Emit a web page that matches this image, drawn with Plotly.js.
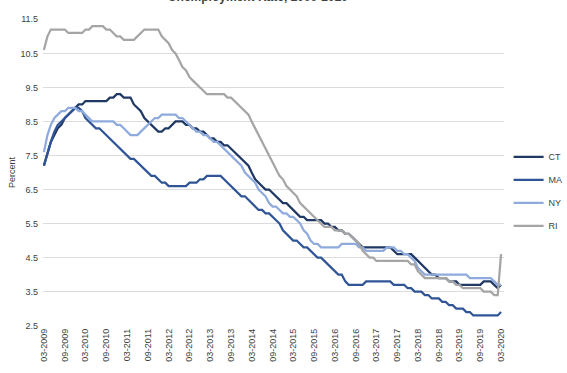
<!DOCTYPE html>
<html>
<head>
<meta charset="utf-8">
<script src="https://cdn.plot.ly/plotly-3.0.1.min.js"></script>
<style>html,body{margin:0;padding:0;background:#fff;}#chart{width:567px;height:373px;}</style>
</head>
<body>
<div id="chart"></div>
<script>
// Monthly series, March 2009 to March 2020
const startYear = 2009, startMonth = 3, nMonths = 133;
const months = [];
for (let i = 0; i < nMonths; i++) {
  const m = startMonth - 1 + i;
  const y = startYear + Math.floor(m / 12);
  const mm = (m % 12) + 1;
  months.push(y + '-' + String(mm).padStart(2, '0') + '-01');
}

const CT = [
  7.2,7.6,7.9,8.1,8.3,8.4,8.6,8.7,8.8,8.9,9.0,9.0,
  9.1,9.1,9.1,9.1,9.1,9.1,9.1,9.2,9.2,9.3,9.3,9.2,
  9.2,9.2,9.0,8.9,8.8,8.6,8.5,8.4,8.3,8.2,8.2,8.3,
  8.3,8.4,8.5,8.5,8.5,8.4,8.4,8.3,8.3,8.2,8.2,8.1,
  8.0,8.0,7.9,7.9,7.8,7.8,7.7,7.6,7.5,7.4,7.3,7.2,
  7.0,6.8,6.7,6.6,6.5,6.5,6.4,6.3,6.2,6.1,6.1,6.0,
  5.9,5.8,5.7,5.7,5.6,5.6,5.6,5.6,5.6,5.5,5.5,5.4,
  5.4,5.3,5.3,5.2,5.2,5.1,5.0,4.9,4.8,4.8,4.8,4.8,
  4.8,4.8,4.8,4.8,4.8,4.7,4.6,4.6,4.6,4.6,4.6,4.5,
  4.4,4.3,4.2,4.1,4.0,4.0,3.9,3.9,3.9,3.8,3.8,3.8,
  3.7,3.7,3.7,3.7,3.7,3.7,3.7,3.8,3.8,3.8,3.7,3.6,3.7
];
const MA = [
  7.2,7.6,7.9,8.2,8.4,8.5,8.6,8.7,8.8,8.9,8.9,8.8,
  8.6,8.5,8.4,8.3,8.3,8.2,8.1,8.0,7.9,7.8,7.7,7.6,
  7.5,7.4,7.4,7.3,7.2,7.1,7.0,6.9,6.9,6.8,6.7,6.7,
  6.6,6.6,6.6,6.6,6.6,6.6,6.7,6.7,6.7,6.8,6.8,6.9,
  6.9,6.9,6.9,6.9,6.8,6.7,6.6,6.5,6.4,6.3,6.3,6.2,
  6.1,6.0,5.9,5.9,5.8,5.8,5.7,5.6,5.5,5.3,5.2,5.1,
  5.0,5.0,4.9,4.8,4.8,4.7,4.6,4.5,4.5,4.4,4.3,4.2,
  4.1,4.0,4.0,3.8,3.7,3.7,3.7,3.7,3.7,3.8,3.8,3.8,
  3.8,3.8,3.8,3.8,3.8,3.7,3.7,3.7,3.7,3.6,3.6,3.5,
  3.5,3.5,3.4,3.4,3.3,3.3,3.3,3.2,3.2,3.1,3.1,3.0,
  3.0,3.0,2.9,2.9,2.8,2.8,2.8,2.8,2.8,2.8,2.8,2.8,2.9
];
const NY = [
  7.6,8.1,8.4,8.6,8.7,8.8,8.8,8.9,8.9,8.9,8.8,8.8,
  8.7,8.6,8.5,8.5,8.5,8.5,8.5,8.5,8.5,8.4,8.4,8.3,
  8.2,8.1,8.1,8.1,8.2,8.3,8.4,8.5,8.6,8.6,8.7,8.7,
  8.7,8.7,8.7,8.6,8.6,8.5,8.4,8.3,8.2,8.2,8.1,8.1,
  8.0,7.9,7.9,7.8,7.7,7.6,7.5,7.4,7.3,7.2,7.0,6.9,
  6.8,6.7,6.5,6.4,6.3,6.1,6.0,6.0,5.9,5.8,5.8,5.7,
  5.7,5.6,5.5,5.3,5.2,5.0,4.9,4.9,4.8,4.8,4.8,4.8,
  4.8,4.8,4.9,4.9,4.9,4.9,4.9,4.8,4.8,4.7,4.7,4.7,
  4.7,4.7,4.7,4.8,4.8,4.8,4.7,4.7,4.6,4.6,4.5,4.4,
  4.2,4.1,4.0,4.0,4.0,4.0,4.0,4.0,4.0,4.0,4.0,4.0,
  4.0,4.0,4.0,3.9,3.9,3.9,3.9,3.9,3.9,3.9,3.8,3.7,3.7
];
const RI = [
  10.6,11.0,11.2,11.2,11.2,11.2,11.2,11.1,11.1,11.1,11.1,11.1,
  11.2,11.2,11.3,11.3,11.3,11.3,11.2,11.2,11.1,11.0,11.0,10.9,
  10.9,10.9,10.9,11.0,11.1,11.2,11.2,11.2,11.2,11.2,11.0,10.9,
  10.8,10.6,10.5,10.3,10.1,10.0,9.8,9.7,9.6,9.5,9.4,9.3,
  9.3,9.3,9.3,9.3,9.3,9.2,9.2,9.1,9.0,8.9,8.8,8.7,
  8.5,8.3,8.1,7.9,7.7,7.5,7.3,7.1,6.9,6.8,6.6,6.5,
  6.4,6.3,6.1,6.0,5.9,5.8,5.7,5.6,5.5,5.4,5.4,5.4,
  5.3,5.3,5.3,5.2,5.2,5.1,5.0,4.9,4.7,4.6,4.5,4.5,
  4.4,4.4,4.4,4.4,4.4,4.4,4.4,4.4,4.4,4.4,4.3,4.3,
  4.1,4.0,3.9,3.9,3.9,3.9,3.9,3.9,3.9,3.8,3.8,3.7,
  3.7,3.6,3.6,3.6,3.6,3.6,3.6,3.5,3.5,3.5,3.4,3.4,4.6
];

const seriesNames = ['CT', 'MA', 'NY', 'RI'];
const seriesData = [CT, MA, NY, RI];
const seriesColors = ['#1F3864', '#2F5597', '#8FAADC', '#A5A5A5'];

const FONT = 'Liberation Sans, Arial, sans-serif';

const traces = seriesNames.map((name, k) => ({
  type: 'scatter',
  mode: 'lines',
  name: name,
  x: months,
  y: seriesData[k],
  line: {color: seriesColors[k], width: 2.25},
  legendgroup: name
}));

const layout = {
  width: 567,
  height: 373,
  margin: {l: 43, r: 63, t: 19, b: 47},
  paper_bgcolor: '#ffffff',
  plot_bgcolor: '#ffffff',
  font: {family: FONT, size: 9, color: '#404040'},
  title: {
    text: '<b>Unemployment Rate, 2009-2020</b>',
    font: {family: FONT, size: 12, color: '#404040'},
    xref: 'container', x: 0.455, xanchor: 'center',
    yref: 'container', y: 0.998, yanchor: 'bottom'
  },
  showlegend: true,
  legend: {
    xref: 'container', yref: 'container',
    x: 0.897, xanchor: 'left', y: 0.487, yanchor: 'middle',
    font: {family: FONT, size: 9, color: '#404040'},
    traceorder: 'grouped', tracegroupgap: 4,
    itemwidth: 30, bgcolor: 'rgba(0,0,0,0)'
  },
  xaxis: {
    type: 'date',
    range: ['2009-02-21', '2020-03-27'],
    tick0: '2009-03-01',
    dtick: 'M6',
    tickformat: '%m-%Y',
    tickangle: -90,
    ticks: '',
    showgrid: false,
    zeroline: false,
    showline: false,
    tickfont: {family: FONT, size: 9, color: '#404040'}
  },
  yaxis: {
    range: [2.49, 11.51],
    tick0: 2.5,
    dtick: 1,
    tickformat: '.1f',
    ticks: '',
    showgrid: true,
    gridcolor: '#DCDCDC',
    gridwidth: 1.5,
    zeroline: false,
    showline: false,
    ticklabelstandoff: 4,
    tickfont: {family: FONT, size: 9, color: '#404040'},
    title: {text: 'Percent', font: {family: FONT, size: 9, color: '#404040'}, standoff: 3}
  }
};

Plotly.newPlot('chart', traces, layout, {displayModeBar: false, staticPlot: true});
</script>
</body>
</html>
